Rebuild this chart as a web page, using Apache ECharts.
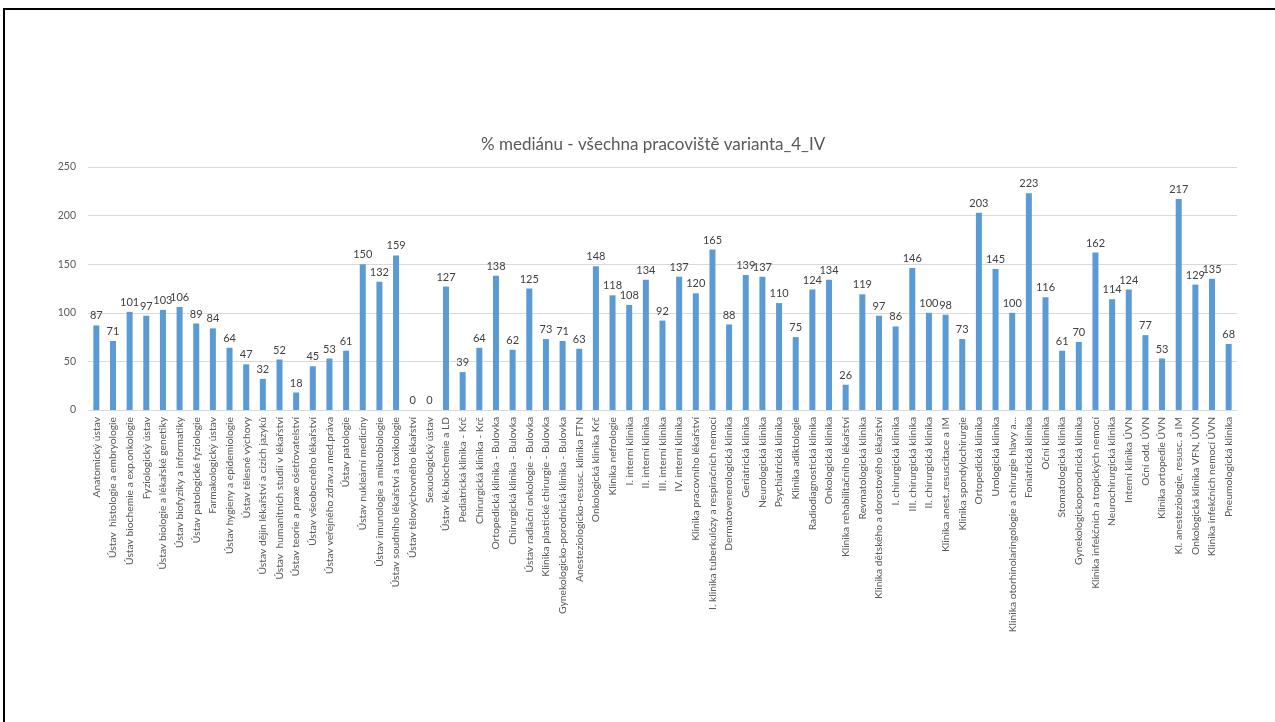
<!DOCTYPE html>
<html>
<head>
<meta charset="utf-8">
<script src="https://cdn.jsdelivr.net/npm/echarts@6/dist/echarts.min.js"></script>
<style>
html,body{margin:0;padding:0;background:#fff;}
#wrap{position:relative;width:1275px;height:722px;overflow:hidden;}
#chart{position:absolute;left:0;top:0;width:1275px;height:722px;}
#frame{position:absolute;left:3px;top:8px;width:1300px;height:800px;border-top:2px solid #000;border-left:2px solid #000;pointer-events:none;}
</style>
</head>
<body>
<div id="wrap"><div id="chart"></div><div id="frame"></div></div>
<script>
const titleText = "% mediánu - všechna pracoviště varianta_4_IV";
const categories = [
"Anatomický ústav","Ústav  histologie a embryologie","Ústav biochemie a exp.onkologie","Fyziologický ústav",
"Ústav biologie a lékařské genetiky","Ústav biofyziky a informatiky","Ústav patologické fyziologie","Farmakologický ústav",
"Ústav hygieny a epidemiologie","Ústav tělesné výchovy","Ústav dějin lékařství a cizích jazyků","Ústav  humanitních studií v lékařství",
"Ústav teorie a praxe ošetřovatelství","Ústav všeobecného lékařství","Ústav veřejného zdrav.a med.práva","Ústav patologie",
"Ústav nukleární medicíny","Ústav imunologie a mikrobiologie","Ústav soudního lékařství a toxikologie","Ústav tělovýchovného lékařství",
"Sexuologický ústav","Ústav lék.biochemie a LD","Pediatrická klinika - Krč","Chirurgická klinika - Krč",
"Ortopedická klinika - Bulovka","Chirurgická klinika - Bulovka","Ústav radiační onkologie - Bulovka","Klinika plastické chirurgie - Bulovka",
"Gynekologicko-porodnická klinika - Bulovka","Anesteziologicko-resusc. klinika FTN","Onkologická klinika Krč","Klinika nefrologie",
"I. interní klinika","II. interní klinika","III. interní klinika","IV. interní klinika",
"Klinika pracovního lékařství","I. klinika tuberkulózy a respiračních nemocí","Dermatovenerologická klinika","Geriatrická klinika",
"Neurologická klinika","Psychiatrická klinika","Klinika adiktologie","Radiodiagnostická klinika",
"Onkologická klinika","Klinika rehabilitačního lékařství","Revmatologická klinika","Klinika dětského a dorostového lékařství",
"I. chirurgická klinika","III. chirurgická klinika","II. chirurgická klinika","Klinika anest.,resuscitace a IM",
"Klinika spondylochirurgie","Ortopedická klinika","Urologická klinika","Klinika otorhinolaringologie a chirurgie hlavy a...",
"Foniatrická klinika","Oční klinika","Stomatologická klinika","Gynekologickoporodnická klinika",
"Klinika infekčních a tropických nemocí","Neurochirurgická klinika","Interní klinika ÚVN","Oční odd. ÚVN",
"Klinika ortopedie ÚVN","Kl. anesteziologie, resusc. a IM","Onkologická klinika VFN, ÚVN","Klinika infekčních nemocí ÚVN",
"Pneumologická klinika"
];
const values = [
87,71,101,97,103,106,89,84,64,47,32,52,18,45,53,61,150,132,159,0,
0,127,39,64,138,62,125,73,71,63,148,118,108,134,92,137,120,165,88,139,
137,110,75,124,134,26,119,97,86,146,100,98,73,203,145,100,223,116,61,70,
162,114,124,77,53,217,129,135,68
];
const yTicks = [0,50,100,150,200,250];

const chart = echarts.init(document.getElementById('chart'), null, {renderer:'canvas'});
const font = "Lato, 'Open Sans', sans-serif";
chart.setOption({
  animation:false,
  backgroundColor:'#fff',
  title:{
    text:titleText,
    left:476, top:131,
    textStyle:{fontFamily:font, fontSize:17, fontWeight:'normal', color:'#595959'}
  },
  grid:{left:88, right:38, top:167, bottom:312, containLabel:false},
  xAxis:{
    type:'category',
    data:categories,
    axisLine:{lineStyle:{color:'#d9d9d9'}},
    axisTick:{show:false},
    axisLabel:{interval:0, rotate:90, fontFamily:font, fontSize:10.3, color:'#595959', margin:7}
  },
  yAxis:{
    type:'value',
    min:yTicks[0], max:yTicks[yTicks.length-1], interval:50,
    axisLine:{show:false},
    axisTick:{show:false},
    splitLine:{lineStyle:{color:'#d9d9d9'}},
    axisLabel:{fontFamily:font, fontSize:10.5, color:'#595959', margin:12}
  },
  series:[{
    type:'bar',
    data:values,
    barWidth:6,
    itemStyle:{color:'#5b9bd5'},
    label:{show:true, position:'top', distance:4, fontFamily:font, fontSize:11, color:'#404040'}
  }]
});
</script>
</body>
</html>
